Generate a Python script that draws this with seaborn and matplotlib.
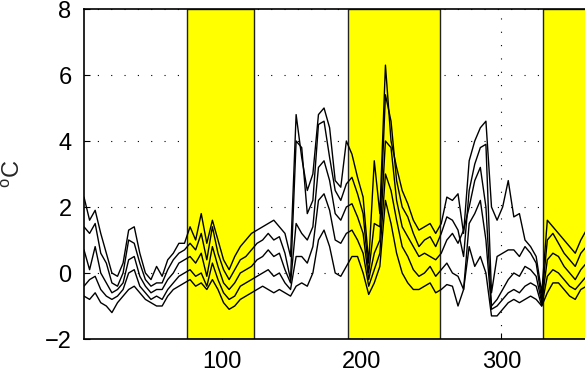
import matplotlib
matplotlib.use("Agg")
import matplotlib.pyplot as plt
import seaborn as sns
import pandas as pd

days = list(range(1, 362, 4))

s1 = [2.3, 1.6, 1.9, 1.2, 0.6, 0.0, -0.1, 0.3, 1.3, 1.4, 0.6, 0.0, -0.2, 0.2, -0.1,
      0.4, 0.6, 0.9, 0.9, 1.4, 1.0, 1.8, 0.9, 1.6, 1.0, 0.4, 0.1, 0.5, 0.8, 1.0,
      1.2, 1.3, 1.4, 1.5, 1.6, 1.4, 1.2, 0.5, 4.8, 3.5, 2.5, 3.0, 4.8, 5.0, 4.4,
      2.8, 2.6, 4.0, 3.6, 2.9, 2.3, 0.3, 3.4, 1.8, 6.3, 4.0, 3.2, 2.5, 2.1, 1.6,
      1.3, 1.4, 1.5, 1.2, 1.5, 2.3, 2.2, 2.4, 1.2, 3.4, 4.0, 4.4, 4.6, 2.0, 1.6,
      2.0, 2.8, 1.7, 1.8, 1.0, 0.8, 0.5, -0.6, 1.6, 1.4, 1.2, 1.0, 0.8, 0.6, 1.0,
      1.3]
s2 = [1.4, 1.2, 1.5, 0.6, 0.3, -0.3, -0.4, 0.0, 1.0, 0.9, 0.3, -0.2, -0.4, -0.3, -0.3,
      0.1, 0.4, 0.6, 0.7, 0.9, 0.7, 1.2, 0.4, 1.4, 0.6, 0.1, -0.2, 0.1, 0.4, 0.5,
      0.7, 0.9, 1.0, 1.2, 1.0, 1.1, 0.6, -0.2, 4.0, 3.8, 1.8, 2.2, 4.5, 4.6, 3.5,
      2.5, 2.2, 2.7, 2.9, 2.4, 1.8, 0.0, 1.5, 1.4, 5.4, 4.6, 2.8, 2.0, 1.7, 1.2,
      0.8, 1.0, 1.1, 0.8, 1.2, 1.7, 1.6, 1.3, 0.5, 2.5, 3.3, 3.8, 3.9, -0.6, 0.5,
      0.6, 0.7, 0.7, 0.5, 0.8, 0.6, 0.3, -0.8, 1.0, 1.2, 0.9, 0.6, 0.4, 0.2, 0.6,
      0.8]
s3 = [0.7, 0.1, 0.8, 0.0, -0.3, -0.6, -0.5, -0.3, 0.4, 0.5, -0.1, -0.4, -0.6, -0.5, -0.5,
      -0.2, 0.0, 0.3, 0.4, 0.5, 0.3, 0.6, -0.1, 0.8, 0.2, -0.3, -0.5, -0.3, 0.0, 0.1,
      0.2, 0.4, 0.5, 0.7, 0.5, 0.6, 0.1, -0.3, 1.5, 1.2, 1.0, 1.4, 3.2, 3.4, 2.8,
      1.8, 1.6, 2.0, 2.1, 1.7, 1.2, -0.2, 0.6, 1.0, 4.0, 3.8, 2.2, 1.4, 1.1, 0.8,
      0.5, 0.6, 0.5, 0.4, 0.6, 1.0, 1.2, 0.9, 1.3, 2.0, 2.8, 3.2, 2.0, -1.0, -0.8,
      -0.5, -0.2, 0.0, -0.1, 0.2, 0.1, -0.1, -0.9, 0.4, 0.6, 0.5, 0.2, 0.0, -0.2, 0.1,
      0.3]
s4 = [-0.4, -0.2, -0.1, -0.5, -0.7, -0.8, -0.7, -0.5, 0.0, 0.1, -0.4, -0.6, -0.8, -0.7, -0.8,
      -0.5, -0.3, -0.1, 0.0, 0.1, -0.1, 0.0, -0.4, 0.3, -0.2, -0.6, -0.8, -0.7, -0.4, -0.3,
      -0.2, -0.1, 0.0, 0.1, -0.1, 0.0, -0.3, -0.5, 0.5, 0.5, 0.3, 0.8, 2.2, 2.4, 1.9,
      1.0, 0.9, 1.2, 1.3, 1.0, 0.6, -0.4, 0.1, 0.6, 3.0, 2.5, 1.6, 0.8, 0.5, 0.1,
      -0.1, 0.0, 0.2, -0.1, 0.1, 0.3, 0.0, -0.1, -0.5, 1.5, 1.8, 2.2, 1.0, -1.1, -1.0,
      -0.8, -0.6, -0.5, -0.6, -0.4, -0.3, -0.4, -1.0, -0.1, 0.1, 0.0, -0.2, -0.4, -0.5, -0.3,
      -0.1]
s5 = [-0.7, -0.8, -0.6, -0.9, -1.0, -1.2, -0.9, -0.7, -0.5, -0.4, -0.6, -0.8, -0.9, -1.0, -1.0,
      -0.7, -0.5, -0.4, -0.3, -0.2, -0.4, -0.3, -0.5, -0.2, -0.5, -0.9, -1.1, -1.0, -0.8, -0.7,
      -0.6, -0.5, -0.4, -0.5, -0.6, -0.5, -0.6, -0.7, -0.4, -0.3, -0.4, 0.0, 1.0, 1.3, 0.8,
      0.0, -0.1, 0.2, 0.5, 0.5, 0.0, -0.65, -0.3, 0.2, 2.2, 1.5, 0.6, 0.0, -0.3, -0.5,
      -0.5, -0.4, -0.3, -0.6, -0.5, -0.35, -0.4, -1.0, -0.5, 0.8, 0.2, 0.5, 0.0, -1.3, -1.3,
      -1.1, -0.9, -0.8, -0.9, -0.8, -0.7, -0.8, -1.0, -0.6, -0.3, -0.3, -0.5, -0.7, -0.8, -0.5,
      -0.4]

bands = [(75, 123), (190, 256), (330, 370)]
xticks = [100, 200, 300]
yticks = [-2, 0, 2, 4, 6, 8]

sns.set_theme(style="white")
plt.rcParams["font.family"] = ["Liberation Sans", "DejaVu Sans"]
plt.rcParams["mathtext.fontset"] = "custom"
plt.rcParams["mathtext.rm"] = "Liberation Sans"

rows = []
for name, vals in zip(["s1", "s2", "s3", "s4", "s5"], [s1, s2, s3, s4, s5]):
    for d, v in zip(days, vals):
        rows.append({"day": d, "value": v, "series": name})
df = pd.DataFrame(rows)

fig = plt.figure(figsize=(5.85, 3.83), dpi=100)
ax = fig.add_axes([84 / 585, 1 - 339 / 383, (585 - 84) / 585, 330 / 383])

ax.set_xlim(1, 360)
ax.set_ylim(-2, 8)
ax.set_xticks(xticks)
ax.set_yticks(yticks)
ax.grid(True, color="black", linestyle=(0, (1, 11)), linewidth=0.8)
ax.set_axisbelow(True)

for a, b in bands:
    ax.axvspan(a, b, facecolor="#ffff00", edgecolor="#222222", linewidth=1.0, zorder=1)

sns.lineplot(data=df, x="day", y="value", units="series", estimator=None,
             color="black", linewidth=1.0, ax=ax, zorder=3, legend=False)

ax.set_xlabel("")
ax.set_ylabel(r"$^{\mathrm{o}}$C", fontsize=17, labelpad=14)
ax.tick_params(direction="in", length=4, width=0.8, labelsize=17, colors="black",
               bottom=True, left=True, top=False, right=False, pad=9)
for sp in ["left", "bottom", "top"]:
    ax.spines[sp].set_color("black")
    ax.spines[sp].set_linewidth(1.2)
ax.spines["right"].set_visible(False)

fig.savefig("out.png", dpi=100)
